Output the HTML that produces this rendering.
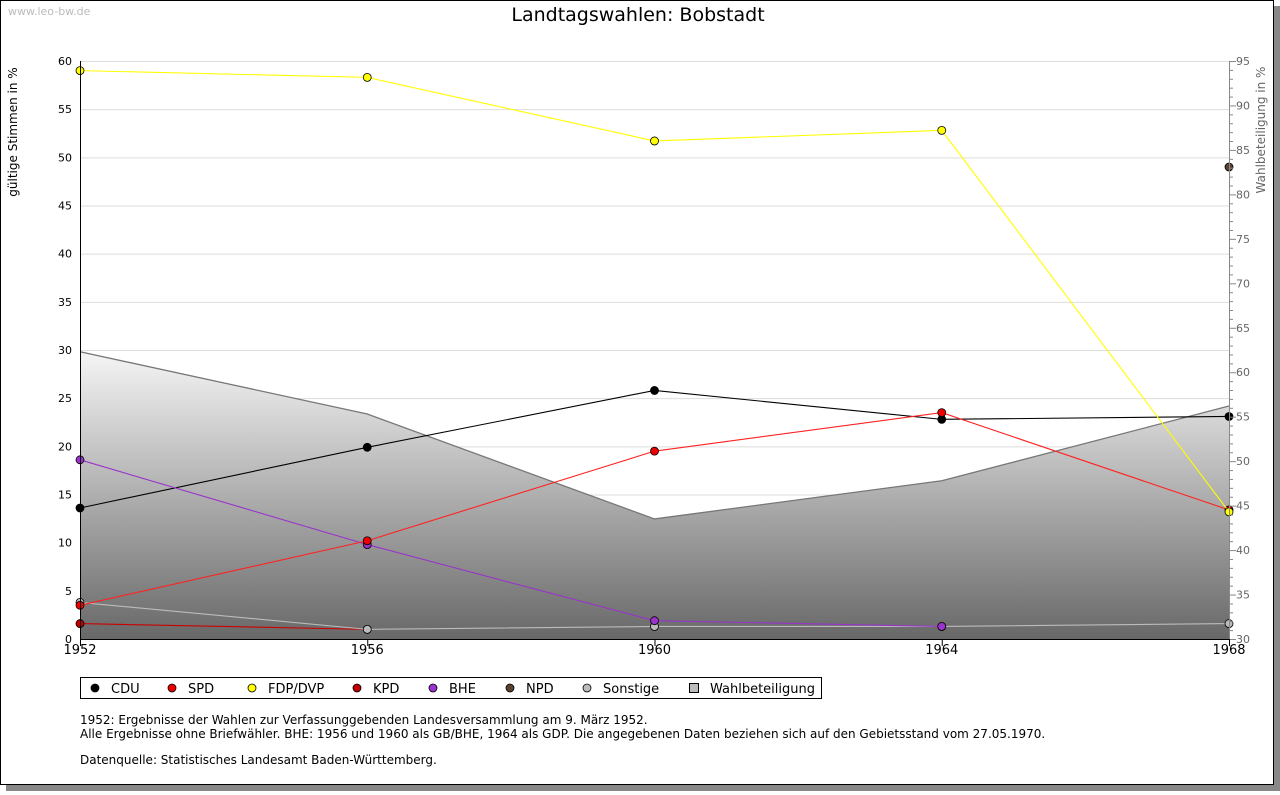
<!DOCTYPE html>
<html><head><meta charset="utf-8"><style>
body{margin:0;background:#fff;font-family:"DejaVu Sans","Liberation Sans",sans-serif;}
</style></head><body>
<svg id="chart" width="1280" height="791" xmlns="http://www.w3.org/2000/svg" font-family="DejaVu Sans, Liberation Sans, sans-serif">
<defs>
<linearGradient id="ag" gradientUnits="userSpaceOnUse" x1="0" y1="350" x2="0" y2="639">
<stop offset="0" stop-color="#f6f6f6"/><stop offset="1" stop-color="#686868"/></linearGradient>
</defs>
<rect x="6" y="6" width="1274" height="785" fill="#888"/>
<rect x="0.5" y="0.5" width="1273" height="784" fill="#fff" stroke="#000"/>
<text x="8" y="15" font-size="11" fill="#bbb">www.leo-bw.de</text>
<text x="638" y="21" font-size="19" text-anchor="middle">Landtagswahlen: Bobstadt</text>
<g id="grid"></g>
<g id="area"></g>
<g id="lines"></g>
<g id="axes"></g>
<text transform="translate(17,132) rotate(-90)" font-size="12" text-anchor="middle">gültige Stimmen in %</text>
<text transform="translate(1265,130) rotate(-90)" font-size="12" fill="#666" text-anchor="middle">Wahlbeteiligung in %</text>
<g id="legend">
<rect x="80.5" y="677.5" width="741" height="21" fill="#fff" stroke="#000"/>
</g>
<g font-size="12">
<text x="80" y="724">1952: Ergebnisse der Wahlen zur Verfassunggebenden Landesversammlung am 9. März 1952.</text>
<text x="80" y="738">Alle Ergebnisse ohne Briefwähler. BHE: 1956 und 1960 als GB/BHE, 1964 als GDP. Die angegebenen Daten beziehen sich auf den Gebietsstand vom 27.05.1970.</text>
<text x="80" y="764">Datenquelle: Statistisches Landesamt Baden-Württemberg.</text>
</g>
</svg>
<script>
const years=[1952,1956,1960,1964,1968];
const cdu=[13.6,19.9,25.8,22.8,23.1];
const spd=[3.5,10.2,19.5,23.5,13.4];
const fdp=[59.0,58.3,51.7,52.8,13.2];
const kpd=[1.6,1.0,null,null,null];
const bhe=[18.6,9.8,1.9,1.3,null];
const npd=[null,null,null,null,49.0];
const sonst=[3.8,1.0,1.3,1.3,1.6];
const turnout=[62.3,55.3,43.5,47.8,56.2];
const leftTicks=[0,5,10,15,20,25,30,35,40,45,50,55,60];
const rightTicks=[30,35,40,45,50,55,60,65,70,75,80,85,90,95];
const NS='http://www.w3.org/2000/svg';
const X0=80,X1=1229,YT=61,YB=639;
const x=y=>X0+(y-1952)/(1968-1952)*(X1-X0);
const yl=v=>YB-v/60*(YB-YT);
const yr=v=>YB-(v-30)/65*(YB-YT);
function mk(tag,a,p){const e=document.createElementNS(NS,tag);for(const k in a)e.setAttribute(k,a[k]);p.appendChild(e);return e;}
const grid=document.getElementById('grid'),area=document.getElementById('area'),lines=document.getElementById('lines'),axes=document.getElementById('axes'),legend=document.getElementById('legend');
leftTicks.forEach(t=>{
  if(t>0){const g=mk('line',{x1:X0,x2:X1,y1:yl(t)+.5,y2:yl(t)+.5,stroke:'#ddd'},grid);
  
  }
  const tx=mk('text',{x:X0-8,y:yl(t)+4,'font-size':11,'text-anchor':'end'},axes);tx.textContent=t;
  
  
});
for(let v=30;v<=95;v++){mk('line',{x1:X1,x2:X1+(v%5?4:7),y1:yr(v)+.5,y2:yr(v)+.5,stroke:'#888'},axes);}
rightTicks.forEach(t=>{const tx=mk('text',{x:X1+7,y:yr(t)+4,'font-size':11,fill:'#666'},axes);tx.textContent=t;
  
  });
let d='M'+x(years[0])+','+YB;years.forEach((yy,i)=>d+=' L'+x(yy)+','+yr(turnout[i]));d+=' L'+x(years[4])+','+YB+'Z';
const ar=mk('path',{d:d,fill:'url(#ag)'},area);


const tl=mk('polyline',{points:years.map((yy,i)=>x(yy)+','+yr(turnout[i])).join(' '),fill:'none',stroke:'#777','stroke-width':1.3},area);


mk('line',{x1:X0+.5,x2:X0+.5,y1:YT,y2:YB,stroke:'#000'},axes);
mk('line',{x1:X1+.5,x2:X1+.5,y1:YT,y2:YB,stroke:'#888'},axes);
mk('line',{x1:X0,x2:X1,y1:YB+.5,y2:YB+.5,stroke:'#000'},axes);
years.forEach(yy=>{mk('line',{x1:x(yy)+.5,x2:x(yy)+.5,y1:YB,y2:YB+7,stroke:'#000'},axes);
  const tx=mk('text',{x:x(yy),y:YB+15,'font-size':13,'text-anchor':'middle'},axes);tx.textContent=yy;
  
  });
const series=[['cdu',cdu,'#000','#000'],['kpd',kpd,'#c00','#c00000'],['sonstige',sonst,'#bbb','#bbb'],['bhe',bhe,'#93c','#9933cc'],['spd',spd,'#f22','#e00'],['fdp',fdp,'#ff0','#ff0'],['npd',npd,'#543','#5a4030']];
series.forEach(([n,vals,lc,mc])=>{
  const pts=[];vals.forEach((v,i)=>{if(v!=null)pts.push(x(years[i])+','+yl(v));});
  const pl=mk('polyline',{points:pts.join(' '),fill:'none',stroke:lc,'stroke-width':1.1},lines);
  
  
  vals.forEach((v,i)=>{if(v==null)return;
    const c=mk('circle',{cx:x(years[i]),cy:yl(v),r:4,fill:mc,stroke:'#000','stroke-width':0.8},lines);
    
    });
});
const leg=[['CDU','#000',95],['SPD','#e00',172],['FDP/DVP','#ff0',252],['KPD','#c00000',357],['BHE','#9933cc',433],['NPD','#5a4030',510],['Sonstige','#bbb',587]];
leg.forEach(([l,c,lx])=>{
  const m=mk('circle',{cx:lx,cy:688,r:4,fill:c,stroke:'#000','stroke-width':0.8},legend);
  
  
  const t=mk('text',{x:lx+16,y:693,'font-size':13},legend);t.textContent=l;
  
  
});
const sq=mk('rect',{x:689.5,y:683.5,width:9,height:9,fill:'#bbb',stroke:'#000'},legend);


const wt=mk('text',{x:710,y:693,'font-size':13},legend);wt.textContent='Wahlbeteiligung';


</script>
</body></html>
